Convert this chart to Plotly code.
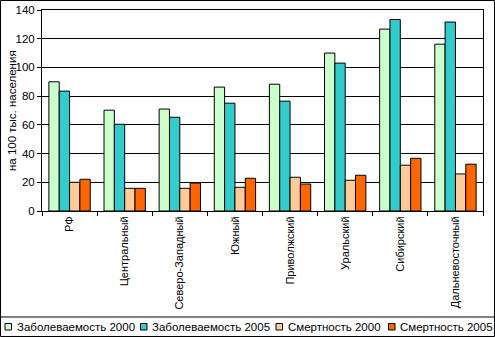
import plotly.graph_objects as go

categories = ["РФ", "Центральный", "Северо-Западный", "Южный", "Приволжский",
              "Уральский", "Сибирский", "Дальневосточный"]
morb_2000 = [90, 70.2, 71, 86.3, 88.3, 110, 126.7, 116.2]
morb_2005 = [83.5, 60.4, 65.3, 75.1, 76.5, 103, 133.4, 131.6]
mort_2000 = [20, 15.8, 15.8, 16.5, 23.5, 21.4, 31.9, 25.8]
mort_2005 = [22.1, 15.8, 19.5, 22.8, 18.8, 24.9, 36.7, 32.6]
series_names = ["Заболеваемость 2000", "Заболеваемость 2005", "Смертность 2000", "Смертность 2005"]
series_colors = ["#CCFFCC", "#33CCCC", "#FFCC99", "#FF6600"]
y_ticks = [0, 20, 40, 60, 80, 100, 120, 140]
y_title = "на 100 тыс. населения"

W, H = 495, 337
L, R, T, B = 42, 12, 10, 126
PW, PH = W - L - R, H - T - B


def px_x(x):
    return (x - L) / PW


def px_y(y):
    return (H - B - y) / PH


FONT = "Arial"

fig = go.Figure()
for name, vals, col in zip(series_names, [morb_2000, morb_2005, mort_2000, mort_2005], series_colors):
    fig.add_trace(go.Bar(x=categories, y=vals, name=name, marker=dict(color=col, line=dict(color="black", width=1)),
                         showlegend=False))

shapes = [
    dict(type="rect", xref="paper", yref="paper", x0=px_x(0.5), x1=px_x(494.5), y0=px_y(0.5), y1=px_y(336.5),
         line=dict(color="black", width=1), fillcolor="rgba(0,0,0,0)", layer="above"),
    dict(type="line", xref="paper", yref="paper", x0=px_x(0.5), x1=px_x(494.5), y0=px_y(317), y1=px_y(317),
         line=dict(color="black", width=1)),
]
annotations = [dict(xref="paper", yref="paper", x=px_x(12), y=px_y(111), xanchor="center", yanchor="middle",
                    text=y_title, textangle=-90, showarrow=False,
                    font=dict(family=FONT, size=11.5, color="black"))]
sq_x = [5, 140.5, 276, 388.5]
for name, col, sx in zip(series_names, series_colors, sq_x):
    shapes.append(dict(type="rect", xref="paper", yref="paper", x0=px_x(sx), x1=px_x(sx + 6.5),
                       y0=px_y(323.5), y1=px_y(330), line=dict(color="black", width=1), fillcolor=col))
    annotations.append(dict(xref="paper", yref="paper", x=px_x(sx + 9.5), y=px_y(326.5), xanchor="left",
                            yanchor="middle", text=name, showarrow=False,
                            font=dict(family=FONT, size=11.5, color="black")))

fig.update_layout(
    width=W, height=H,
    margin=dict(l=L, r=R, t=T, b=B, autoexpand=False),
    paper_bgcolor="white", plot_bgcolor="white",
    barmode="group", bargap=0.25, bargroupgap=0,
    font=dict(family=FONT, size=11, color="black"),
    shapes=shapes, annotations=annotations,
    xaxis=dict(tickangle=-90, tickson="boundaries", ticks="outside", ticklen=4, tickcolor="black",
               showline=True, linecolor="black", linewidth=1, mirror=True, automargin=False,
               tickfont=dict(family=FONT, size=11)),
    yaxis=dict(range=[0, 140], tickvals=y_ticks, ticks="outside", ticklen=4, tickcolor="black",
               showline=True, linecolor="black", linewidth=1, mirror=True, automargin=False,
               showgrid=True, gridcolor="black", gridwidth=1, zeroline=False,
               tickfont=dict(family=FONT, size=11.5)),
)

fig.write_html("out.html")
